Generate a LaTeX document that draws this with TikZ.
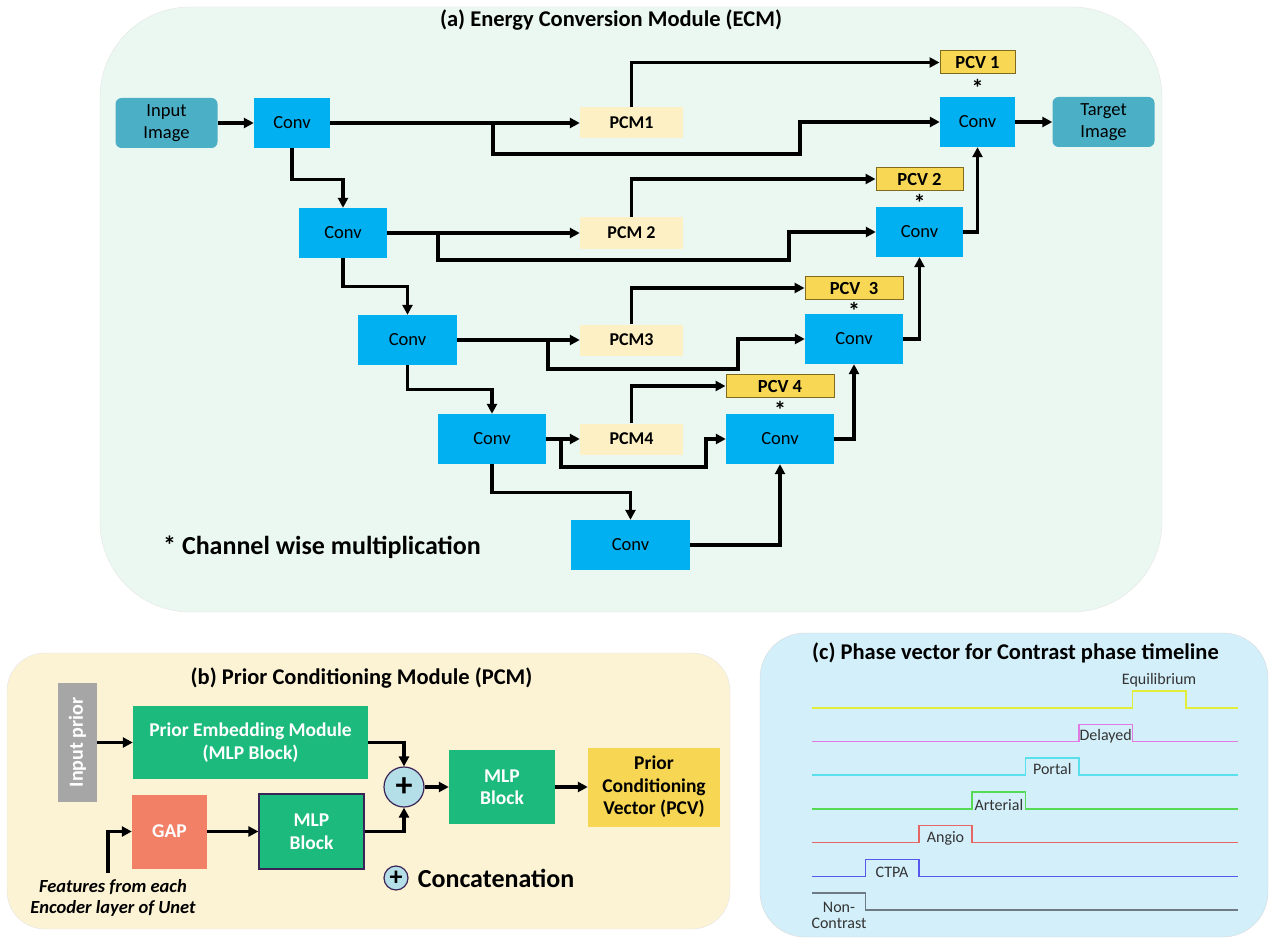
\documentclass[tikz,border=0pt]{standalone}
\usepackage{fontspec}
\setmainfont{Carlito}
\usetikzlibrary{arrows.meta,positioning,calc}

\definecolor{ecmbg}{HTML}{EBF8F2}
\definecolor{pcmbg}{HTML}{FCF2D4}
\definecolor{tlbg}{HTML}{D2EFFA}
\definecolor{convblue}{HTML}{00B0F0}
\definecolor{imgteal}{HTML}{4BAFC6}
\definecolor{pcmfill}{HTML}{FDF0C4}
\definecolor{pcvfill}{HTML}{F8D754}
\definecolor{pcvline}{HTML}{7F6A1E}
\definecolor{pcvgold}{HTML}{F7D653}
\definecolor{mlpgreen}{HTML}{1CBB7D}
\definecolor{gapred}{HTML}{F28066}
\definecolor{priorgray}{HTML}{A6A6A6}
\definecolor{catblue}{HTML}{B4DEE8}
\definecolor{catline}{HTML}{3A2456}
\definecolor{tlyellow}{HTML}{E2EC3A}
\definecolor{tlmagenta}{HTML}{E27AE4}
\definecolor{tlcyan}{HTML}{5ADFEC}
\definecolor{tlgreen}{HTML}{55DA55}
\definecolor{tlred}{HTML}{E66666}
\definecolor{tlblue}{HTML}{5858EE}
\definecolor{tlgray}{HTML}{6E7B84}

\begin{document}
\begin{tikzpicture}[x=1pt,y=-1pt,
    every node/.style={inner sep=0pt},
    arr/.style={-{Triangle[length=10pt,width=10pt]},line width=3.3pt},
    conv/.style={fill=convblue,minimum height=50,font=\fontsize{18.5}{20}\selectfont},
    img/.style={fill=imgteal,rounded corners=6,minimum width=102,minimum height=50,align=center,font=\fontsize{18.5}{22}\selectfont},
    pcm/.style={fill=pcmfill,minimum width=103,minimum height=31,font=\fontsize{18}{20}\selectfont\bfseries},
    pcv/.style={fill=pcvfill,draw=pcvline,line width=1pt,minimum height=23,font=\fontsize{18.5}{20}\selectfont\bfseries},
    title/.style={font=\fontsize{22.5}{26}\selectfont\bfseries},
    mlp/.style={fill=mlpgreen,text=white,align=center,font=\fontsize{19.5}{22.5}\selectfont\bfseries},
    cat/.style={circle,fill=catblue,draw=catline,line width=1.2pt},
    tl/.style={text=black!80,font=\fontsize{16}{16}\selectfont}]

    \useasboundingbox (0,0) rectangle (1270,939);

    % panels
    \filldraw[fill=ecmbg,draw=black!10,rounded corners=90] (100,7) rectangle (1162,612);
    \filldraw[fill=pcmbg,draw=black!10,rounded corners=38] (7,653) rectangle (730,929);
    \filldraw[fill=tlbg,draw=black!15,rounded corners=45] (760,633) rectangle (1268,937);

    % (a) energy conversion module
    \node[title] (ta) at (611,20) {(a) Energy Conversion Module (ECM)};
    \node[img] (inimg) at (166.5,123) {Input\\Image};
    \node[img] (tgimg) at (1103.5,122) {Target\\Image};

    % encoder side
    \foreach \n/\x/\y/\w in {1/292/123/76,2/343/233/88,3/407.5/340/99,4/492/439/108,5/630.5/545/119}
    {%
    \node[conv,minimum width=\w] at (\x,\y) (c\n) {Conv};
    }%

    % prior conditioning rows
    \foreach \n/\y/\lab in {1/123/PCM1,2/233/PCM 2,3/340/PCM3,4/439/PCM4}
    {%
    \node[pcm] at (631.5,\y) (p\n) {\lab};
    }%

    % decoder side
    \foreach \n/\x/\y/\w/\vy/\sy/\lab in {1/977.5/122/75/59.5/37/PCV 1,2/919.5/232/87/53/32/PCV 2,3/854/339/98/51/31/PCV\ \ 3,4/780/439/108/53/32/PCV 4}
    {%
    \node[conv,minimum width=\w] at (\x,\y) (d\n) {Conv};
    \node[pcv,minimum width=\w] at (\x,\y-\vy) (v\n) {\lab};
    \node[font=\fontsize{24}{24}\selectfont\bfseries] at (\x,\y-\sy+3) (s\n) {*};
    }%

    \node[font=\fontsize{26}{30}\selectfont\bfseries] (note) at (322,547) {* Channel wise multiplication};

    % connections
    \draw[arr] (inimg) -- (c1);
    \draw[arr] (d1) -- (tgimg);
    \foreach \n in {1,...,4}
    {%
    \draw[arr] (c\n) -- (p\n);
    \draw[arr] (p\n.north) |- (v\n.west);
    }%
    \foreach \a/\b/\dy in {1/2/31,2/3/28,3/4/24,4/5/28}
        \draw[arr] (c\a.south) -- ++(0,\dy) -| (c\b.north);
    \foreach \n/\bx/\by/\rx in {1/493/154/800,2/438/260/789,3/548/369/738,4/561/467/706}
        \draw[arr] (c\n.east) -| (\bx,\by) -- (\rx,\by) |- (d\n.west);
    \foreach \a/\b in {2/1,3/2,4/3}
        \draw[arr] (d\a.east) -| (d\b.south);
    \draw[arr] (c5.east) -| (d4.south);

    % (b) prior conditioning module
    \node[title] (tb) at (361.5,678) {(b) Prior Conditioning Module (PCM)};
    \node[fill=priorgray,text=white,rotate=90,minimum width=119,minimum height=39,font=\fontsize{20}{22}\selectfont\bfseries] (inp) at (77.5,742.5) {Input prior};
    \node[mlp,minimum width=235,minimum height=73] (pem) at (250.5,742.5) {Prior Embedding Module\\(MLP Block)};
    \node[mlp,fill=gapred,minimum width=75,minimum height=74] (gap) at (169.5,831.5) {GAP};
    \node[mlp,draw=catline,line width=1.2pt,minimum width=105,minimum height=75] (mlpa) at (311.5,831.5) {MLP\\Block};
    \node[cat,minimum size=40,font=\fontsize{34}{34}\selectfont\bfseries] (plus) at (404,787) {+};
    \node[mlp,minimum width=106,minimum height=74] (mlpb) at (502,787) {MLP\\Block};
    \node[fill=pcvgold,align=center,minimum width=132,minimum height=79,font=\fontsize{19.5}{22.5}\selectfont\bfseries] (pcvb) at (654,787) {Prior\\Conditioning\\Vector (PCV)};
    \node[align=center,font=\fontsize{18.5}{21}\selectfont\bfseries\itshape] (feat) at (113,898) {Features from each\\Encoder layer of Unet};
    \node[cat,minimum size=24,font=\fontsize{26}{26}\selectfont\bfseries] (lg) at (396,878) {+};
    \node[right=9pt of lg,font=\fontsize{26}{30}\selectfont\bfseries] (lgt) {Concatenation};

    \coordinate (fin) at (108,873);
    \draw[arr] (fin) |- (gap.west);
    \draw[arr] (inp) -- (pem);
    \draw[arr] (gap) -- (mlpa);
    \draw[arr] (pem.east) -| (plus.north);
    \draw[arr] (mlpa.east) -| (plus.south);
    \draw[arr] (plus) -- (mlpb);
    \draw[arr] (mlpb) -- (pcvb);

    % (c) phase timeline
    \node[title] (tc) at (1015.5,653) {(c) Phase vector for Contrast phase timeline};
    \draw[tlgray,line width=1.6pt] (812,893) -- (865.4,893) -- (865.4,910) -- (1238,910);
    \node[tl,align=center] (ph0) at (839,915) {Non-\\Contrast};
    \foreach \p/\col/\lab/\dy in {1/tlblue/CTPA/13,2/tlred/Angio/13,3/tlgreen/Arterial/13,4/tlcyan/Portal/11,5/tlmagenta/Delayed/12,6/tlyellow/Equilibrium/-11}
    {%
    \pgfmathsetmacro\yb{910-33.7*\p}
    \pgfmathsetmacro\xa{812+53.4*\p}
    \pgfmathsetmacro\xb{\xa+53.4}
    \draw[\col,line width=1.6pt] (812,\yb) -- (\xa,\yb) -- (\xa,\yb-17) -- (\xb,\yb-17) -- (\xb,\yb) -- (1238,\yb);
    \node[tl] at (\xa+26.7,\yb-17+\dy) (ph\p) {\lab};
    }%
\end{tikzpicture}
\end{document}
